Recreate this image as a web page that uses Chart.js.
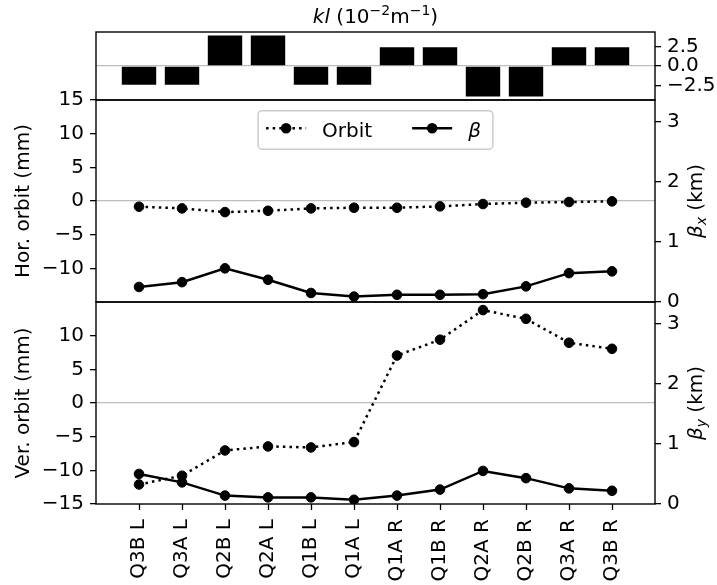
<!DOCTYPE html>
<html>
<head>
<meta charset="utf-8">
<script src="https://cdn.jsdelivr.net/npm/chart.js@4.4.1/dist/chart.umd.min.js"></script>
<style>
  html, body { margin: 0; padding: 0; background: #fff; }
  #wrap { position: relative; width: 717px; height: 585px; }
  #wrap canvas { position: absolute; left: 0; top: 0; }
</style>
</head>
<body>
<div id="wrap">
  <canvas id="klChart" width="717" height="585"></canvas>
  <canvas id="horChart" width="717" height="585"></canvas>
  <canvas id="verChart" width="717" height="585"></canvas>
</div>
<script>
// Quadrupole names along the beamline
const magnets = ['Q3B L', 'Q3A L', 'Q2B L', 'Q2A L', 'Q1B L', 'Q1A L',
                 'Q1A R', 'Q1B R', 'Q2A R', 'Q2B R', 'Q3A R', 'Q3B R'];

// Integrated strengths kl (1e-2 m^-1)
const klValues = [-2.4, -2.4, 3.9, 3.9, -2.4, -2.4, 2.4, 2.4, -3.9, -3.9, 2.4, 2.4];

// Horizontal orbit (mm) and beta_x (km)
const horOrbit = [-0.85, -1.1, -1.65, -1.45, -1.1, -1.0, -1.0, -0.8, -0.45, -0.25, -0.15, -0.05];
const betaX = [0.25, 0.33, 0.56, 0.37, 0.15, 0.09, 0.12, 0.12, 0.13, 0.26, 0.48, 0.51];

// Vertical orbit (mm) and beta_y (km)
const verOrbit = [-12.1, -10.8, -7.05, -6.45, -6.6, -5.8, 7.05, 9.4, 13.8, 12.5, 8.95, 8.05];
const betaY = [0.5, 0.36, 0.14, 0.11, 0.11, 0.07, 0.14, 0.24, 0.55, 0.43, 0.26, 0.22];

// Tick values
const klTicks = [-2.5, 0, 2.5];
const horTicks = [-10, -5, 0, 5, 10, 15];
const verTicks = [-15, -10, -5, 0, 5, 10];
const betaTicks = [0, 1, 2, 3];

const FONT = '"DejaVu Sans", sans-serif';
const FS = 20;
Chart.defaults.font.family = FONT;
Chart.defaults.font.size = FS;
Chart.defaults.color = '#000';

const W = 717, H = 585;
const LEFT_W = 96, RIGHT_W = 62;
const ZERO_GREY = '#bdbdbd';

const fmtNum = (v, d) => (v < 0 ? '\u2212' : '') + Math.abs(v).toFixed(d);
const pts = arr => arr.map((y, i) => ({ x: i, y }));

function xScale(show) {
  return {
    type: 'linear', min: -1, max: 12, offset: false, display: show,
    afterBuildTicks: s => { s.ticks = magnets.map((_, i) => ({ value: i })); },
    afterFit: s => { if (show) s.height = 81; },
    grid: { offset: false, drawOnChartArea: false, tickLength: 6, tickWidth: 1.3, tickColor: '#000' },
    border: { display: false },
    ticks: { autoSkip: false, maxRotation: 90, minRotation: 90, padding: 9,
             callback: v => magnets[v] ?? '' }
  };
}

function yScale(side, min, max, tickVals, decimals, width, zeroLine) {
  return {
    type: 'linear', position: side, min, max,
    afterBuildTicks: s => { s.ticks = tickVals.map(v => ({ value: v })); },
    afterFit: s => { s.width = width; },
    grid: {
      drawOnChartArea: zeroLine,
      color: c => (c.tick && c.tick.value === 0) ? ZERO_GREY : 'rgba(0,0,0,0)',
      lineWidth: 1.3, tickLength: 6, tickWidth: 1.3, tickColor: '#000'
    },
    border: { display: false },
    ticks: { padding: 6, callback: v => fmtNum(v, decimals) }
  };
}

// Black box around each plotting area
const framePlugin = {
  id: 'frame',
  afterDraw(chart) {
    const { ctx, chartArea: a } = chart;
    ctx.save();
    ctx.strokeStyle = '#000';
    ctx.lineWidth = 1.4;
    ctx.strokeRect(a.left, a.top, a.right - a.left, a.bottom - a.top);
    ctx.restore();
  }
};

// Text with italic / superscript / subscript runs
function segFont(s) {
  const sz = (s.sup || s.sub) ? FS * 0.7 : FS;
  return (s.it ? 'italic ' : '') + sz + 'px ' + FONT;
}
function drawRich(ctx, segs, x, y, rot) {
  ctx.save();
  ctx.translate(x, y);
  if (rot) ctx.rotate(rot);
  ctx.textAlign = 'left';
  ctx.textBaseline = 'alphabetic';
  ctx.fillStyle = '#000';
  let total = 0;
  const widths = segs.map(s => { ctx.font = segFont(s); const w = ctx.measureText(s.t).width; total += w; return w; });
  let cx = -total / 2;
  segs.forEach((s, i) => {
    ctx.font = segFont(s);
    const dy = s.sup ? -0.36 * FS : (s.sub ? 0.2 * FS : 0);
    ctx.fillText(s.t, cx, dy);
    cx += widths[i];
  });
  ctx.restore();
}
function textPlugin(items) {
  return {
    id: 'richText',
    afterDraw(chart) {
      const a = chart.chartArea;
      items.forEach(it => {
        const p = it.pos(a);
        drawRich(chart.ctx, it.segs, p.x, p.y, it.rot || 0);
      });
    }
  };
}
const midY = a => (a.top + a.bottom) / 2;

// Legend with line + marker handles, laid out in one row
const lineLegendPlugin = {
  id: 'lineLegend',
  afterDraw(chart) {
    const ctx = chart.ctx, a = chart.chartArea;
    const ds = chart.data.datasets;
    const pad = 0.4 * FS, handleLen = 2 * FS, textPad = 0.8 * FS, colSpace = 2 * FS;
    ctx.save();
    const items = ds.map(d => {
      ctx.font = (d.legendItalic ? 'italic ' : '') + FS + 'px ' + FONT;
      return { d, w: ctx.measureText(d.label).width };
    });
    const inner = items.reduce((s, it, i) => s + handleLen + textPad + it.w + (i ? colSpace : 0), 0);
    const boxW = inner + pad + 12;
    const boxH = 38.5;
    const bx = (a.left + a.right) / 2 - boxW / 2;
    const by = a.top + 10.7;
    ctx.beginPath();
    ctx.roundRect(bx, by, boxW, boxH, 4);
    ctx.fillStyle = 'rgba(255,255,255,0.8)';
    ctx.fill();
    ctx.strokeStyle = '#cccccc';
    ctx.lineWidth = 1.5;
    ctx.stroke();
    let x = bx + pad;
    const hy = by + 17.5;
    items.forEach((it, i) => {
      if (i) x += colSpace;
      const d = it.d;
      ctx.beginPath();
      ctx.setLineDash(d.borderDash || []);
      ctx.strokeStyle = d.borderColor;
      ctx.lineWidth = d.borderWidth;
      ctx.moveTo(x, hy);
      ctx.lineTo(x + handleLen, hy);
      ctx.stroke();
      ctx.setLineDash([]);
      ctx.beginPath();
      ctx.arc(x + handleLen / 2, hy, d.pointRadius + d.pointBorderWidth / 2, 0, Math.PI * 2);
      ctx.fillStyle = d.pointBackgroundColor;
      ctx.fill();
      x += handleLen + textPad;
      ctx.font = (d.legendItalic ? 'italic ' : '') + FS + 'px ' + FONT;
      ctx.fillStyle = '#000';
      ctx.textAlign = 'left';
      ctx.textBaseline = 'alphabetic';
      ctx.fillText(d.label, x, by + 26.2);
      x += it.w;
    });
    ctx.restore();
  }
};

function orbitSet(data) {
  return { label: 'Orbit', data: pts(data), yAxisID: 'y',
    borderColor: '#000', backgroundColor: '#000', borderWidth: 2.5, borderDash: [2.5, 4.1],
    pointRadius: 4.8, pointBorderWidth: 1, pointBackgroundColor: '#000', pointBorderColor: '#000',
    tension: 0, fill: false };
}
function betaSet(data) {
  return { label: '\u03b2', legendItalic: true, data: pts(data), yAxisID: 'y1',
    borderColor: '#000', backgroundColor: '#000', borderWidth: 2.5, borderDash: [],
    pointRadius: 4.8, pointBorderWidth: 1, pointBackgroundColor: '#000', pointBorderColor: '#000',
    tension: 0, fill: false };
}

const baseOpts = {
  responsive: false, animation: false, devicePixelRatio: 1,
  plugins: { legend: { display: false }, tooltip: { enabled: false }, title: { display: false } }
};

// Panel 1: quadrupole strengths
new Chart(document.getElementById('klChart'), {
  type: 'bar',
  data: { datasets: [{ data: pts(klValues), backgroundColor: '#000', borderWidth: 0,
                       barPercentage: 0.8, categoryPercentage: 1 }] },
  options: Object.assign({}, baseOpts, {
    layout: { padding: { left: LEFT_W, right: 0, top: 32, bottom: H - 100 } },
    scales: { x: xScale(false), y: yScale('right', -4.35, 4.35, klTicks, 1, RIGHT_W, true) }
  }),
  plugins: [framePlugin, textPlugin([
    { segs: [{ t: 'kl', it: true }, { t: ' (10' }, { t: '\u22122', sup: true }, { t: 'm' },
             { t: '\u22121', sup: true }, { t: ')' }],
      pos: a => ({ x: (a.left + a.right) / 2, y: 22.5 }) }
  ])]
});

// Panel 2: horizontal orbit and beta_x
new Chart(document.getElementById('horChart'), {
  type: 'line',
  data: { datasets: [orbitSet(horOrbit), betaSet(betaX)] },
  options: Object.assign({}, baseOpts, {
    layout: { padding: { left: 0, right: 0, top: 100, bottom: H - 302 } },
    scales: {
      x: xScale(false),
      y: yScale('left', -15, 15, horTicks, 0, LEFT_W, true),
      y1: yScale('right', 0, 3.36, betaTicks, 0, RIGHT_W, false)
    }
  }),
  plugins: [framePlugin, lineLegendPlugin, textPlugin([
    { segs: [{ t: 'Hor. orbit (mm)' }], rot: -Math.PI / 2, pos: a => ({ x: 28.5, y: midY(a) }) },
    { segs: [{ t: '\u03b2', it: true }, { t: 'x', it: true, sub: true }, { t: ' (km)' }],
      rot: -Math.PI / 2, pos: a => ({ x: 702, y: midY(a) }) }
  ])]
});

// Panel 3: vertical orbit and beta_y
new Chart(document.getElementById('verChart'), {
  type: 'line',
  data: { datasets: [orbitSet(verOrbit), betaSet(betaY)] },
  options: Object.assign({}, baseOpts, {
    layout: { padding: { left: 0, right: 0, top: 302, bottom: 0 } },
    scales: {
      x: xScale(true),
      y: yScale('left', -15, 15, verTicks, 0, LEFT_W, true),
      y1: yScale('right', 0, 3.36, betaTicks, 0, RIGHT_W, false)
    }
  }),
  plugins: [framePlugin, textPlugin([
    { segs: [{ t: 'Ver. orbit (mm)' }], rot: -Math.PI / 2, pos: a => ({ x: 28.5, y: midY(a) }) },
    { segs: [{ t: '\u03b2', it: true }, { t: 'y', it: true, sub: true }, { t: ' (km)' }],
      rot: -Math.PI / 2, pos: a => ({ x: 702, y: midY(a) }) }
  ])]
});
</script>
</body>
</html>
